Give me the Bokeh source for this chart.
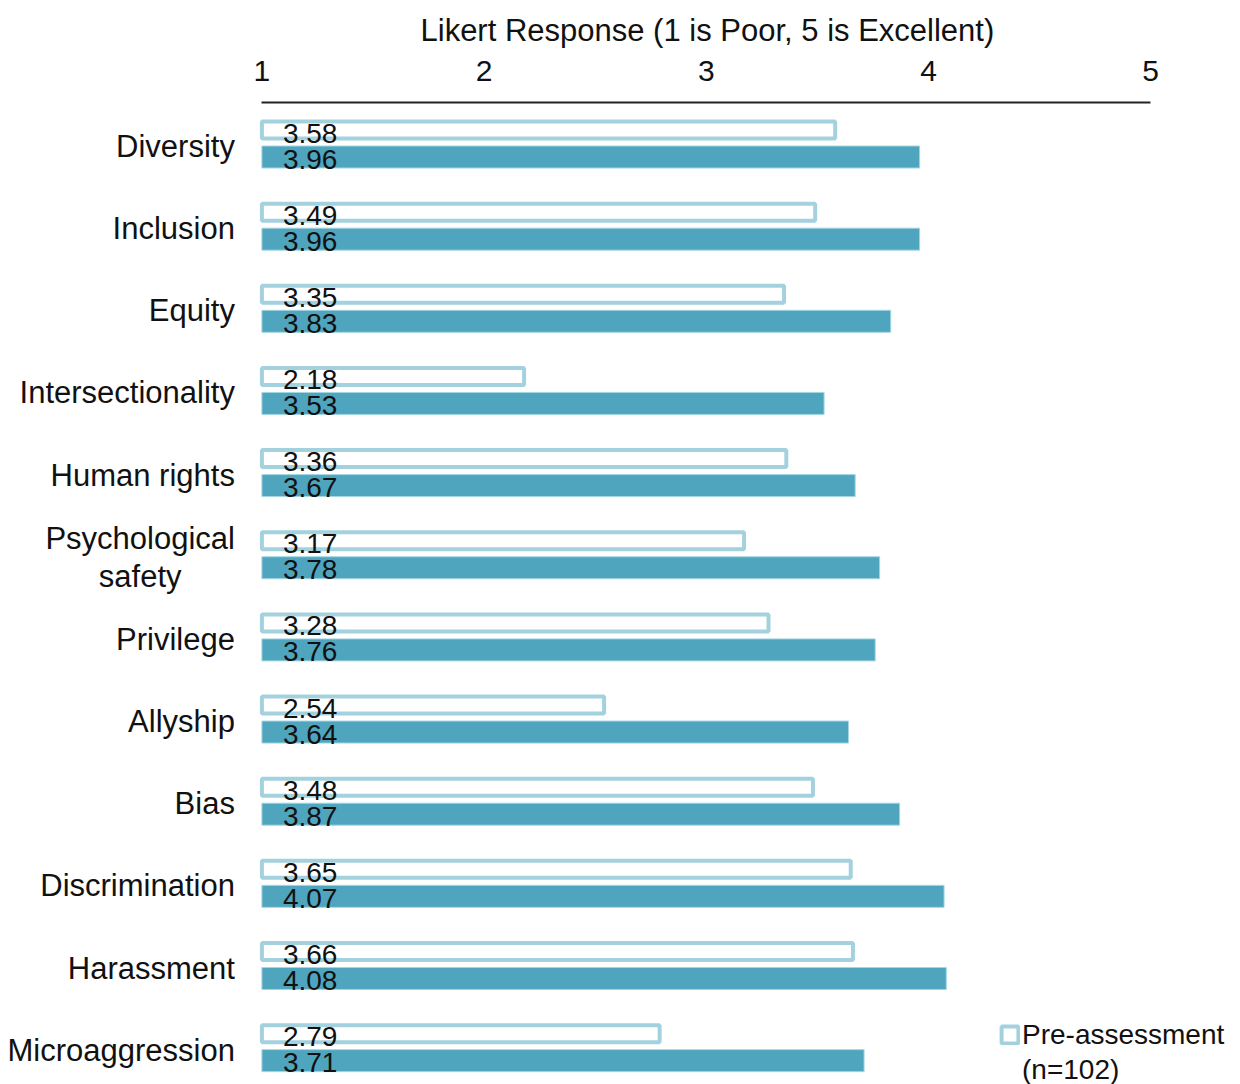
from bokeh.plotting import figure
from bokeh.models import ColumnDataSource, Range1d, LinearAxis, FixedTicker, Legend, LegendItem, Title
from bokeh.embed import file_html
from bokeh.resources import INLINE
from bokeh.core.properties import value

categories = ["Diversity", "Inclusion", "Equity", "Intersectionality", "Human rights",
              "Psychological\nsafety", "Privilege", "Allyship", "Bias", "Discrimination",
              "Harassment", "Microaggression"]
pre = [3.58, 3.49, 3.35, 2.18, 3.36, 3.17, 3.28, 2.54, 3.48, 3.65, 3.66, 2.79]
post = [3.96, 3.96, 3.83, 3.53, 3.67, 3.78, 3.76, 3.64, 3.87, 4.07, 4.08, 3.71]
x_ticks = [1, 2, 3, 4, 5]
title_text = "Likert Response (1 is Poor, 5 is Excellent)"
legend_title = "Pre-assessment"
legend_note = "(n=102)"

FONT = "Liberation Sans"
PRE_COLOR = "#a3d2de"
POST_COLOR = "#4fa5bd"
POST_EDGE = "#a3d6e3"
PX = 222.7           # pixels per Likert unit
ROW = 82.15          # pixels per category row
FRAME_TOP = 102
H = 1084
CAT_SIZE = 31

# approximate Arial/Liberation Sans advance widths (em) to centre multi-line labels
_W = dict(zip("abcdefghijklmnopqrstuvwxyz", [.556, .556, .5, .556, .556, .278, .556, .556, .222, .222, .5, .222,
                                              .833, .556, .556, .556, .556, .333, .5, .278, .556, .5, .722, .5, .5, .5]))
def text_w(s):
    return sum(_W.get(c, 0.667) for c in s) * CAT_SIZE

x_start = 1 - 262 / PX
x_end = 5 + 90 / PX
y_top = -(143 - FRAME_TOP) / ROW
y_bot = (H - 143) / ROW

p = figure(width=1240, height=H, output_backend="svg", toolbar_location=None,
           x_range=Range1d(x_start, x_end), y_range=Range1d(y_bot, y_top),
           x_axis_location=None, y_axis_location=None,
           min_border_left=0, min_border_right=0, min_border_bottom=0, min_border_top=FRAME_TOP)
p.outline_line_color = None
p.grid.visible = False
p.background_fill_color = "white"
p.border_fill_color = "white"

idx = list(range(len(categories)))
off = 13.5 / ROW
cat_align, cat_xoff = [], []
for c in categories:
    if "\n" in c:
        cat_align.append("center")
        cat_xoff.append(-27 - max(text_w(s) for s in c.split("\n")) / 2)
    else:
        cat_align.append("right")
        cat_xoff.append(-27)

src = ColumnDataSource(dict(
    y=idx,
    y_pre=[i - off for i in idx],
    y_post=[i + off for i in idx],
    cat=categories,
    cat_align=cat_align,
    cat_xoff=cat_xoff,
    pre=pre,
    post=post,
    pre_txt=[f"{v:.2f}" for v in pre],
    post_txt=[f"{v:.2f}" for v in post],
    left=[1] * len(idx),
))

r_pre = p.hbar(y="y_pre", left="left", right="pre", height=17 / ROW, source=src,
               fill_color="white", line_color=PRE_COLOR, line_width=4)
r_post = p.hbar(y="y_post", left="left", right="post", height=22 / ROW, source=src,
                fill_color=POST_COLOR, line_color=POST_EDGE, line_width=1)

p.text(x="left", y="y_pre", text="pre_txt", source=src, x_offset=21, y_offset=3,
       text_font=value(FONT), text_font_size="28px", text_color="#111111",
       text_align="left", text_baseline="middle")
p.text(x="left", y="y_post", text="post_txt", source=src, x_offset=21, y_offset=2,
       text_font=value(FONT), text_font_size="28px", text_color="#111111",
       text_align="left", text_baseline="middle")

p.text(x="left", y="y", text="cat", source=src, x_offset="cat_xoff", y_offset=3,
       text_font=value(FONT), text_font_size=f"{CAT_SIZE}px", text_color="#111111",
       text_align="cat_align", text_baseline="middle", text_line_height=1.1)

ax = LinearAxis(ticker=FixedTicker(ticks=x_ticks), bounds=(1, 5))
ax.axis_line_color = "#222222"
ax.axis_line_width = 2
ax.major_tick_line_color = None
ax.minor_tick_line_color = None
ax.major_label_text_font = FONT
ax.major_label_text_font_size = "30px"
ax.major_label_text_color = "#111111"
ax.major_label_standoff = 16
p.add_layout(ax, "above")

p.add_layout(Title(text=title_text, align="left", offset=420, text_font=FONT,
                   text_font_size="31px", text_font_style="normal", text_color="#111111",
                   standoff=20), "above")

r_blank = p.hbar(y=[], left=[], right=[], height=0.1, fill_alpha=0, line_alpha=0)
legend = Legend(items=[LegendItem(label=legend_title, renderers=[r_pre]),
                       LegendItem(label=legend_note, renderers=[r_blank])],
                location=(999, -2), border_line_color=None, background_fill_alpha=0,
                label_text_font=FONT, label_text_font_size="28px", label_text_color="#111111",
                glyph_width=21, glyph_height=21, label_standoff=2, padding=0, margin=0,
                label_height=33, spacing=2)
p.add_layout(legend)

open("out.html", "w").write(file_html(p, INLINE))
